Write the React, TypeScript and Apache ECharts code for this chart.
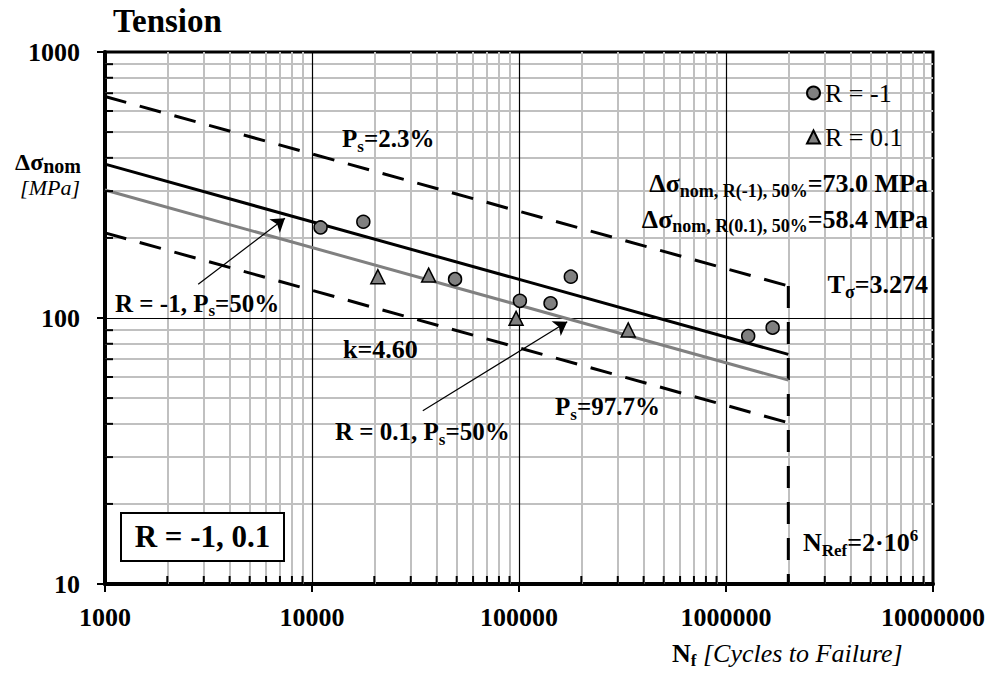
import React, { useEffect, useRef } from 'react';
import * as echarts from 'echarts';

// ---- data ----
const xDecades = [1000, 10000, 100000, 1000000, 10000000];
const yDecades = [10, 100, 1000];
const minorMultipliers = [2, 3, 4, 5, 6, 7, 8, 9];

const rMinus1Name = 'R = -1';
const rMinus1N = [11000, 17700, 49100, 101000, 142000, 178000, 1280000, 1680000];
const rMinus1S = [219, 230, 140, 116, 113.6, 143, 85.6, 92];

const r01Name = 'R = 0.1';
const r01N = [20800, 36600, 96800, 337000];
const r01S = [143, 145, 99.7, 90.2];

const lineN = [1000, 2000000];
const curveRm1S = [379, 73.0];
const curveR01S = [303, 58.4];
const bandUpperS = [680, 132]; // Ps = 2.3%
const bandLowerS = [209, 40.4]; // Ps = 97.7%
const nRef = 2000000;
const nRefLineS = [132, 10];

const arrow1 = [[2820, 134], [7400, 237]];
const arrow2 = [[34300, 44.8], [171000, 96.8]];

// ---- helpers ----
const FONT = 'Liberation Serif';
let measureCtx: CanvasRenderingContext2D | null = null;
function measure(text: string, size: number, bold: boolean, italic: boolean) {
  if (!measureCtx) measureCtx = document.createElement('canvas').getContext('2d');
  measureCtx!.font = `${italic ? 'italic' : 'normal'} ${bold ? 'bold' : 'normal'} ${size}px "${FONT}"`;
  return measureCtx!.measureText(text).width;
}
type Run = { t: string; size: number; bold?: boolean; italic?: boolean; dy?: number };
function runs(x: number, baseline: number, parts: Run[], align: 'left' | 'right' | 'center' = 'left') {
  const widths = parts.map((p) => measure(p.t, p.size, !!p.bold, !!p.italic));
  const total = widths.reduce((a, b) => a + b, 0);
  let cx = align === 'left' ? x : align === 'right' ? x - total : x - total / 2;
  const out: any[] = [];
  parts.forEach((p, i) => {
    if (p.t.trim().length > 0) {
      out.push({
        type: 'text',
        x: cx,
        y: baseline + (p.dy || 0) - 0.34 * p.size,
        silent: true,
        z: 100,
        style: {
          text: p.t,
          fontSize: p.size,
          fontWeight: p.bold ? 'bold' : 'normal',
          fontStyle: p.italic ? 'italic' : 'normal',
          fontFamily: FONT,
          fill: '#000',
          align: 'left',
          verticalAlign: 'middle',
        },
      });
    }
    cx += widths[i];
  });
  return out;
}

export default function App() {
  const ref = useRef<HTMLDivElement>(null);
  useEffect(() => {
    document.body.style.margin = '0';
    const chart = echarts.init(ref.current!, null, { renderer: 'svg' });

    const xMinor: number[] = [];
    xDecades.slice(0, -1).forEach((d) => minorMultipliers.forEach((m) => xMinor.push(d * m)));
    const yMinor: number[] = [];
    yDecades.slice(0, -1).forEach((d) => minorMultipliers.forEach((m) => yMinor.push(d * m)));
    const xMajorInner = xDecades.slice(1, -1);
    const yMajorInner = yDecades.slice(1, -1);

    const tickData: number[][] = [];
    xMinor.forEach((v) => tickData.push([v, yDecades[0], 0]));
    yMinor.forEach((v) => tickData.push([xDecades[0], v, 1]));

    const gridLines = [
      ...xMinor.map((v) => ({ xAxis: v, lineStyle: { color: '#c0c0c0', width: 2, type: 'solid' } })),
      ...yMinor.map((v) => ({ yAxis: v, lineStyle: { color: '#c0c0c0', width: 2, type: 'solid' } })),
      ...xMajorInner.map((v) => ({ xAxis: v, lineStyle: { color: '#000', width: 1.2, type: 'solid' } })),
      ...yMajorInner.map((v) => ({ yAxis: v, lineStyle: { color: '#000', width: 1.2, type: 'solid' } })),
    ];

    const dash = [22, 14];
    const pairs = (xs: number[], ys: number[]) => xs.map((x, i) => [x, ys[i]]);

    const axisLabelStyle = {
      fontFamily: FONT,
      fontSize: 26,
      fontWeight: 'bold',
      color: '#000',
    };

    const graphics: any[] = [
      ...runs(113, 32, [{ t: 'Tension', size: 33, bold: true }]),
      ...runs(81, 170, [
        { t: 'Δσ', size: 24, bold: true },
        { t: 'nom', size: 20, bold: true, dy: 3 },
      ], 'right'),
      ...runs(80, 195, [{ t: '[MPa]', size: 22, italic: true }], 'right'),
      ...runs(342, 147, [
        { t: 'P', size: 25, bold: true },
        { t: 's', size: 17, bold: true, dy: 5 },
        { t: '=2.3%', size: 25, bold: true },
      ]),
      ...runs(928, 192.7, [
        { t: 'Δσ', size: 26, bold: true },
        { t: 'nom, R(-1), 50%', size: 18, bold: true, dy: 4 },
        { t: '=73.0 MPa', size: 26, bold: true },
      ], 'right'),
      ...runs(928, 228.3, [
        { t: 'Δσ', size: 26, bold: true },
        { t: 'nom, R(0.1), 50%', size: 18, bold: true, dy: 4 },
        { t: '=58.4 MPa', size: 26, bold: true },
      ], 'right'),
      ...runs(928, 293, [
        { t: 'T', size: 26, bold: true },
        { t: 'σ', size: 18, bold: true, dy: 5 },
        { t: '=3.274', size: 26, bold: true },
      ], 'right'),
      ...runs(115, 311.7, [
        { t: 'R = -1, P', size: 25, bold: true },
        { t: 's', size: 17, bold: true, dy: 5 },
        { t: '=50%', size: 25, bold: true },
      ]),
      ...runs(343, 358, [{ t: 'k=4.60', size: 26, bold: true }]),
      ...runs(555, 415, [
        { t: 'P', size: 25, bold: true },
        { t: 's', size: 17, bold: true, dy: 5 },
        { t: '=97.7%', size: 25, bold: true },
      ]),
      ...runs(335, 440, [
        { t: 'R = 0.1, P', size: 25, bold: true },
        { t: 's', size: 17, bold: true, dy: 5 },
        { t: '=50%', size: 25, bold: true },
      ]),
      ...runs(803, 551.7, [
        { t: 'N', size: 26, bold: true },
        { t: 'Ref', size: 17, bold: true, dy: 5 },
        { t: '=2·10', size: 26, bold: true },
        { t: '6', size: 17, bold: true, dy: -10 },
      ]),
      ...runs(672, 662.7, [
        { t: 'N', size: 26, bold: true },
        { t: 'f', size: 17, bold: true, dy: 4 },
        { t: ' ', size: 26, italic: true },
        { t: '[Cycles to Failure]', size: 26, italic: true },
      ]),
      {
        type: 'rect',
        z: 99,
        silent: true,
        shape: { x: 121, y: 513, width: 163, height: 48 },
        style: { fill: '#fff', stroke: '#000', lineWidth: 2 },
      },
      ...runs(202.5, 546.7, [{ t: 'R = -1, 0.1', size: 31, bold: true }], 'center'),
    ];

    chart.setOption({
      animation: false,
      textStyle: { fontFamily: FONT },
      grid: {
        left: 105,
        right: 59,
        top: 52,
        bottom: 97,
        show: true,
        borderColor: '#000',
        borderWidth: 3,
        backgroundColor: 'transparent',
        outerBoundsMode: 'none',
      },
      legend: {
        data: [rMinus1Name, r01Name],
        orient: 'vertical',
        left: 801,
        top: 75,
        itemWidth: 13,
        itemHeight: 13,
        itemGap: 18,
        selectedMode: false,
        textStyle: { fontFamily: FONT, fontSize: 26, color: '#000', lineHeight: 26 },
      },
      xAxis: {
        type: 'log',
        logBase: 10,
        min: xDecades[0],
        max: xDecades[xDecades.length - 1],
        splitNumber: 4,
        axisLine: { show: true, lineStyle: { color: '#000', width: 4 } },
        axisTick: { show: true, inside: false, length: 8, lineStyle: { color: '#000', width: 2 } },
        splitLine: { show: false },
        minorTick: { show: false },
        axisLabel: {
          ...axisLabelStyle,
          margin: 20,
          formatter: (v: number) => String(Math.round(v)),
        },
      },
      yAxis: {
        type: 'log',
        logBase: 10,
        min: yDecades[0],
        max: yDecades[yDecades.length - 1],
        splitNumber: 2,
        axisLine: { show: true, lineStyle: { color: '#000', width: 4 } },
        axisTick: { show: true, inside: false, length: 8, lineStyle: { color: '#000', width: 2 } },
        splitLine: { show: false },
        minorTick: { show: false },
        axisLabel: {
          ...axisLabelStyle,
          margin: 25,
          formatter: (v: number) => String(Math.round(v)),
        },
      },
      graphic: graphics,
      series: [
        {
          name: 'grid',
          type: 'line',
          data: [],
          z: 1,
          silent: true,
          markLine: {
            z: 1,
            silent: true,
            symbol: ['none', 'none'],
            label: { show: false },
            animation: false,
            data: gridLines,
          },
        },
        {
          name: 'ticks',
          type: 'custom',
          z: 5,
          silent: true,
          dimensions: ['x', 'y', 'k'],
          encode: { x: 0, y: 1 },
          data: tickData,
          renderItem: (params: any, api: any) => {
            const p = api.coord([api.value(0), api.value(1)]);
            const k = api.value(2);
            if (k === 0) {
              return {
                type: 'line',
                shape: { x1: p[0], y1: p[1], x2: p[0], y2: p[1] - 8 },
                style: { stroke: '#000', lineWidth: 2 },
              };
            }
            return {
              type: 'line',
              shape: { x1: p[0], y1: p[1], x2: p[0] + 8, y2: p[1] },
              style: { stroke: '#000', lineWidth: 2 },
            };
          },
        },
        {
          name: 'Ps 2.3%',
          type: 'line',
          z: 3,
          symbol: 'none',
          silent: true,
          data: pairs(lineN, bandUpperS),
          lineStyle: { color: '#000', width: 3, type: dash },
        },
        {
          name: 'Ps 97.7%',
          type: 'line',
          z: 3,
          symbol: 'none',
          silent: true,
          data: pairs(lineN, bandLowerS),
          lineStyle: { color: '#000', width: 3, type: dash },
        },
        {
          name: 'NRef',
          type: 'line',
          z: 3,
          symbol: 'none',
          silent: true,
          data: nRefLineS.map((s) => [nRef, s]),
          lineStyle: { color: '#000', width: 3, type: dash },
        },
        {
          name: 'R=-1 50%',
          type: 'line',
          z: 3,
          symbol: 'none',
          silent: true,
          data: pairs(lineN, curveRm1S),
          lineStyle: { color: '#000', width: 3 },
        },
        {
          name: 'R=0.1 50%',
          type: 'line',
          z: 3,
          symbol: 'none',
          silent: true,
          data: pairs(lineN, curveR01S),
          lineStyle: { color: '#808080', width: 3 },
        },
        {
          name: 'arrows',
          type: 'lines',
          coordinateSystem: 'cartesian2d',
          z: 4,
          silent: true,
          symbol: ['none', 'arrow'],
          symbolSize: 13,
          lineStyle: { color: '#000', width: 1.2, opacity: 1 },
          data: [{ coords: arrow1 }, { coords: arrow2 }],
        },
        {
          name: rMinus1Name,
          type: 'scatter',
          z: 6,
          symbol: 'circle',
          symbolSize: 13,
          data: pairs(rMinus1N, rMinus1S),
          itemStyle: { color: '#808080', borderColor: '#000', borderWidth: 1.5, opacity: 1 },
        },
        {
          name: r01Name,
          type: 'scatter',
          z: 6,
          symbol: 'triangle',
          symbolSize: 14,
          data: pairs(r01N, r01S),
          itemStyle: { color: '#808080', borderColor: '#000', borderWidth: 1.5, opacity: 1 },
        },
      ],
    });
    return () => chart.dispose();
  }, []);
  return <div ref={ref} style={{ width: 992, height: 681 }} />;
}
